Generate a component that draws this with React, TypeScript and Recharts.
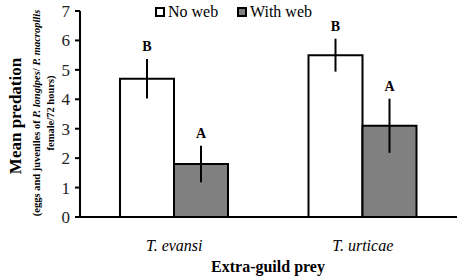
import * as React from "react"
import {
  BarChart,
  Bar,
  XAxis,
  YAxis,
  ErrorBar,
  LabelList,
  Customized,
} from "recharts"

const FONT = "'Liberation Serif', 'Times New Roman', serif"

const categories = ["T. evansi", "T. urticae"]
const noWeb = [4.7, 5.5]
const noWebErr = [0.67, 0.56]
const noWebLetters = ["B", "B"]
const withWeb = [1.8, 3.1]
const withWebErr = [0.62, 0.92]
const withWebLetters = ["A", "A"]
const yTicks = [0, 1, 2, 3, 4, 5, 6, 7]
const legendItems = [
  { label: "No web", fill: "#fff" },
  { label: "With web", fill: "#808080" },
]

const data = categories.map((c, i) => ({
  name: c,
  noWeb: noWeb[i],
  noWebErr: noWebErr[i],
  withWeb: withWeb[i],
  withWebErr: withWebErr[i],
}))

function letterLabel(errs: number[], letters: string[]) {
  return (props: any) => {
    const { x, y, width, height, value, index } = props
    const pxPerUnit = height / value
    const top = y - errs[index] * pxPerUnit
    return (
      <text
        x={x + width / 2}
        y={top - 8}
        textAnchor="middle"
        fontFamily={FONT}
        fontWeight="bold"
        fontSize={14}
        fill="#000"
      >
        {letters[index]}
      </text>
    )
  }
}

function XTick(props: any) {
  const { x, y, payload } = props
  return (
    <text x={x} y={y + 26} textAnchor="middle" fontFamily={FONT} fontSize={16} fontStyle="italic" fill="#000">
      {payload.value}
    </text>
  )
}

function YTick(props: any) {
  const { x, y, payload } = props
  return (
    <text x={x - 3} y={y + 6} textAnchor="end" fontFamily={FONT} fontSize={17} fill="#222">
      {payload.value}
    </text>
  )
}

function Overlay() {
  return (
    <g fontFamily={FONT} fill="#000">
      {legendItems.map((it, i) => {
        const x0 = i === 0 ? 156 : 238
        return (
          <g key={it.label}>
            <rect x={x0} y={8} width={8} height={8} fill={it.fill} stroke="#000" strokeWidth={2} />
            <text x={x0 + 12} y={17} fontSize={16}>
              {it.label}
            </text>
          </g>
        )
      })}
      <text
        transform="translate(21,116) rotate(-90)"
        textAnchor="middle"
        fontWeight="bold"
        fontSize={17}
      >
        Mean predation
      </text>
      <text
        transform="translate(40,113) rotate(-90)"
        textAnchor="middle"
        fontWeight="bold"
        fontSize={10.5}
      >
        (eggs and juveniles of <tspan fontStyle="italic">P. longipes</tspan>/{" "}
        <tspan fontStyle="italic">P. macropilis</tspan>
      </text>
      <text
        transform="translate(54,113) rotate(-90)"
        textAnchor="middle"
        fontWeight="bold"
        fontSize={10.5}
      >
        female/72 hours)
      </text>
      <text x={268} y={272} textAnchor="middle" fontWeight="bold" fontSize={16}>
        Extra-guild prey
      </text>
    </g>
  )
}

export default function App() {
  return (
    <div style={{ position: "absolute", left: 0, top: 0, width: 460, height: 279, background: "#fff" }}>
      <BarChart
        width={460}
        height={279}
        data={data}
        margin={{ top: 11, right: 3, left: 0, bottom: 0 }}
        barGap={0}
        barCategoryGap={40}
      >
        <XAxis
          dataKey="name"
          height={62}
          tickLine={false}
          axisLine={{ stroke: "#000", strokeWidth: 2 }}
          tick={<XTick />}
        />
        <YAxis
          width={80}
          domain={[0, 7]}
          ticks={yTicks}
          interval={0}
          tickSize={5}
          axisLine={{ stroke: "#000", strokeWidth: 2 }}
          tickLine={{ stroke: "#000", strokeWidth: 2 }}
          tick={<YTick />}
        />
        <Bar dataKey="noWeb" fill="#fff" stroke="#000" strokeWidth={2} isAnimationActive={false}>
          <ErrorBar dataKey="noWebErr" width={0} stroke="#000" strokeWidth={2} />
          <LabelList dataKey="noWeb" content={letterLabel(noWebErr, noWebLetters)} />
        </Bar>
        <Bar dataKey="withWeb" fill="#808080" stroke="#000" strokeWidth={2} isAnimationActive={false}>
          <ErrorBar dataKey="withWebErr" width={0} stroke="#000" strokeWidth={2} />
          <LabelList dataKey="withWeb" content={letterLabel(withWebErr, withWebLetters)} />
        </Bar>
        <Customized component={Overlay} />
      </BarChart>
    </div>
  )
}
